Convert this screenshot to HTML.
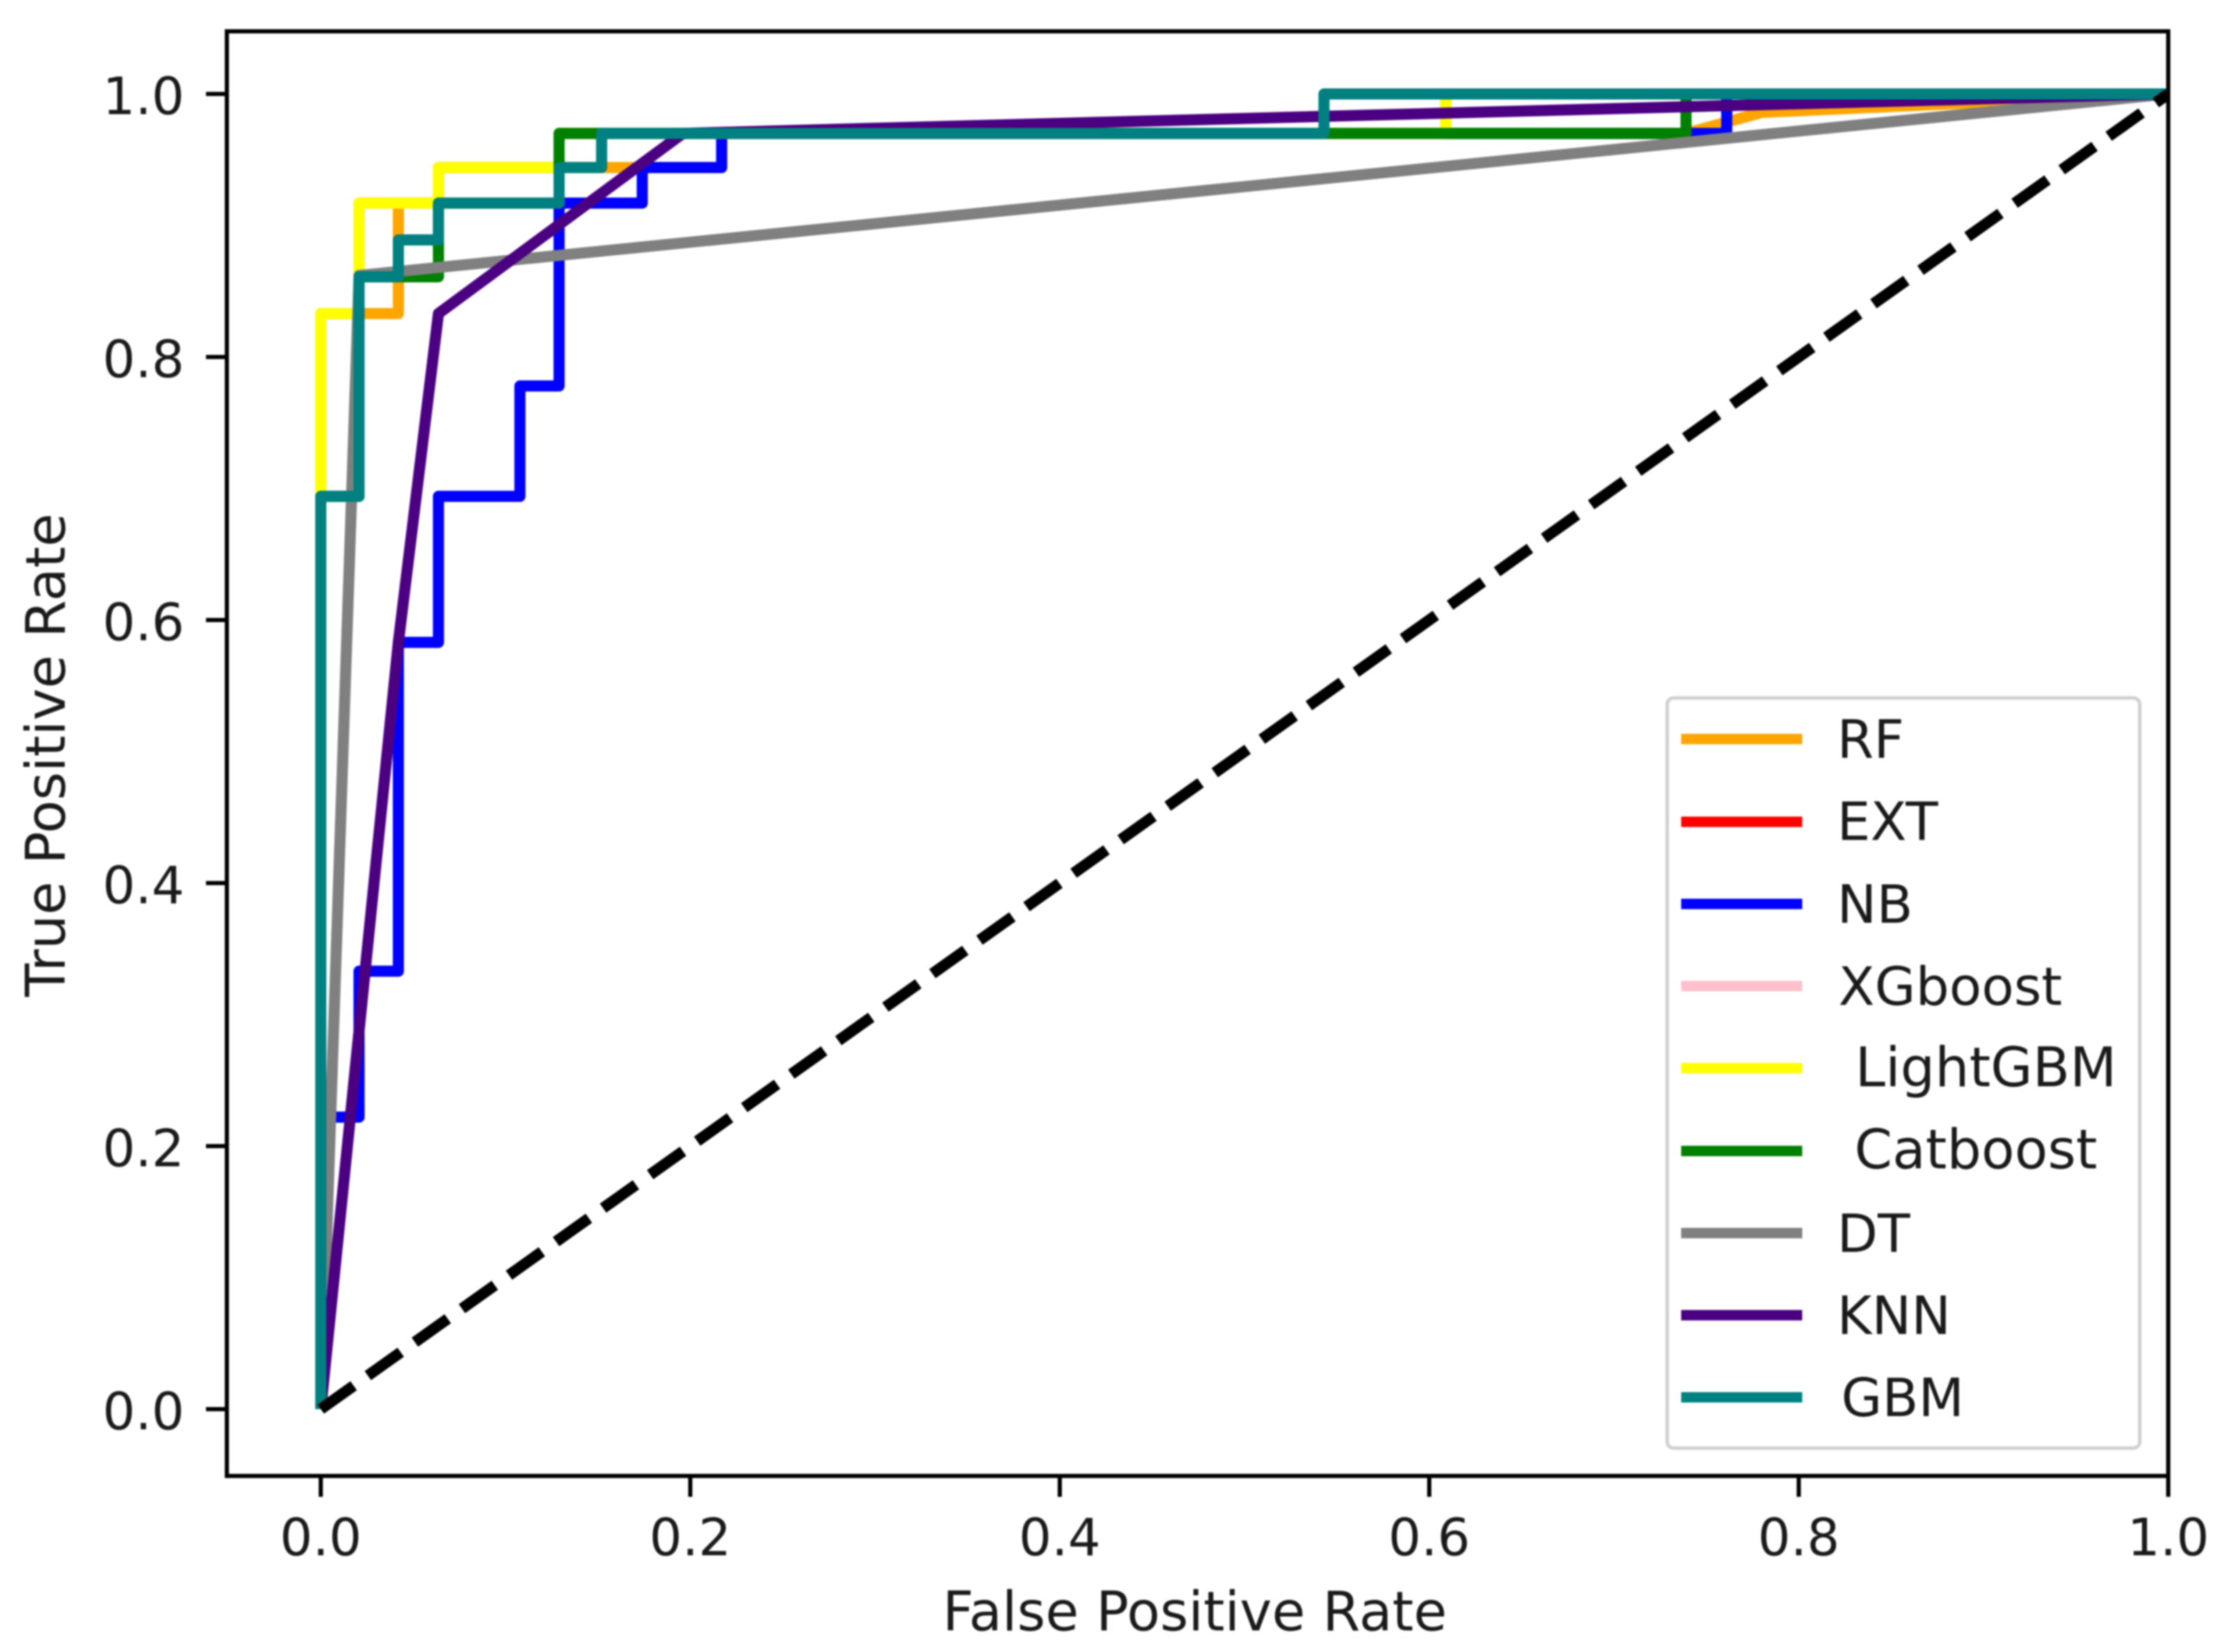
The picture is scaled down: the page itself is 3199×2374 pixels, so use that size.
<!DOCTYPE html>
<html lang="en">
<head>
<meta charset="utf-8">
<title>ROC curves</title>
<style>
  html,body{margin:0;padding:0;background:#fff;}
  svg{display:block;filter:blur(1.2px);}
  text{font-family:"DejaVu Sans","Liberation Sans",sans-serif;fill:#1a1a1a;}
</style>
</head>
<body>
<svg id="chart" xmlns="http://www.w3.org/2000/svg" width="3199" height="2374" viewBox="0 0 3199 2374">
  <rect x="0" y="0" width="3199" height="2374" fill="#ffffff"/>
  <defs><clipPath id="plot-clip"><rect x="327" y="45" width="2789" height="2076"/></clipPath></defs>
  <g id="series-layer" clip-path="url(#plot-clip)"></g>
  <g id="tick-layer"></g>
  <rect x="326" y="45" width="2790" height="2076" fill="none" stroke="#000" stroke-width="6"/>
  <text x="1717" y="2343" font-size="78" text-anchor="middle">False Positive Rate</text>
  <text transform="translate(93,1085) rotate(-90)" font-size="78" text-anchor="middle">True Positive Rate</text>
  <g>
    <rect x="2396" y="1003" width="679" height="1078" rx="9" fill="#ffffff" stroke="#d0d0d0" stroke-width="5"/>
    <g><line x1="2416" x2="2590" y1="1062" y2="1062" stroke="#ffa500" stroke-width="15"/><text x="2640" y="1089" font-size="76">RF</text></g>
    <g><line x1="2416" x2="2590" y1="1181" y2="1181" stroke="#ff0000" stroke-width="15"/><text x="2640" y="1207" font-size="76">EXT</text></g>
    <g><line x1="2416" x2="2590" y1="1299" y2="1299" stroke="#0000ff" stroke-width="15"/><text x="2640" y="1326" font-size="76">NB</text></g>
    <g><line x1="2416" x2="2590" y1="1417" y2="1417" stroke="#ffc0cb" stroke-width="15"/><text x="2642" y="1444" font-size="76">XGboost</text></g>
    <g><line x1="2416" x2="2590" y1="1535" y2="1535" stroke="#ffff00" stroke-width="15"/><text x="2666" y="1561" font-size="78">LightGBM</text></g>
    <g><line x1="2416" x2="2590" y1="1654" y2="1654" stroke="#008000" stroke-width="15"/><text x="2665" y="1679" font-size="78">Catboost</text></g>
    <g><line x1="2416" x2="2590" y1="1772" y2="1772" stroke="#808080" stroke-width="15"/><text x="2640" y="1799" font-size="76">DT</text></g>
    <g><line x1="2416" x2="2590" y1="1890" y2="1890" stroke="#4b0082" stroke-width="15"/><text x="2640" y="1917" font-size="76">KNN</text></g>
    <g><line x1="2416" x2="2590" y1="2008" y2="2008" stroke="#008080" stroke-width="15"/><text x="2646" y="2035" font-size="76">GBM</text></g>
  </g>
</svg>
<script>
const xTickValues = [0, 0.2, 0.4, 0.6, 0.8, 1.0];
const yTickValues = [0, 0.2, 0.4, 0.6, 0.8, 1.0];
const xTickLabels = ["0.0", "0.2", "0.4", "0.6", "0.8", "1.0"];
const yTickLabels = ["0.0", "0.2", "0.4", "0.6", "0.8", "1.0"];

const rfFpr = [0, 0, 0.042, 0.042, 0.0637, 0.0637, 0.217, 0.217, 0.739, 0.78, 1];
const rfTpr = [0, 0.833, 0.833, 0.917, 0.917, 0.944, 0.944, 0.970, 0.970, 0.986, 1];
const extFpr = [0, 0, 0.0207, 0.0207, 0.0637, 0.0637, 0.129, 0.129, 0.609, 0.609, 1];
const extTpr = [0, 0.833, 0.833, 0.917, 0.917, 0.944, 0.944, 0.970, 0.970, 1, 1];
const nbFpr = [0, 0, 0.0207, 0.0207, 0.042, 0.042, 0.0637, 0.0637, 0.1078, 0.1078, 0.129, 0.129, 0.174, 0.174, 0.217, 0.217, 0.761, 0.761, 1];
const nbTpr = [0, 0.222, 0.222, 0.333, 0.333, 0.583, 0.583, 0.694, 0.694, 0.778, 0.778, 0.917, 0.917, 0.944, 0.944, 0.970, 0.970, 1, 1];
const xgbFpr = [0, 0, 0.0207, 0.0207, 0.0637, 0.0637, 0.129, 0.129, 0.609, 0.609, 1];
const xgbTpr = [0, 0.833, 0.833, 0.917, 0.917, 0.944, 0.944, 0.970, 0.970, 1, 1];
const lightgbmFpr = [0, 0, 0.0207, 0.0207, 0.0637, 0.0637, 0.129, 0.129, 0.609, 0.609, 1];
const lightgbmTpr = [0, 0.833, 0.833, 0.917, 0.917, 0.944, 0.944, 0.970, 0.970, 1, 1];
const catboostFpr = [0, 0, 0.0207, 0.0207, 0.0637, 0.0637, 0.129, 0.129, 0.739, 0.739, 1];
const catboostTpr = [0, 0.694, 0.694, 0.861, 0.861, 0.917, 0.917, 0.970, 0.970, 1, 1];
const dtFpr = [0, 0.0207, 1];
const dtTpr = [0, 0.862, 1];
const knnFpr = [0, 0.042, 0.0637, 0.196, 1];
const knnTpr = [0, 0.583, 0.833, 0.970, 1];
const gbmFpr = [0, 0, 0.0207, 0.0207, 0.042, 0.042, 0.0637, 0.0637, 0.129, 0.129, 0.152, 0.152, 0.543, 0.543, 1];
const gbmTpr = [0, 0.694, 0.694, 0.861, 0.861, 0.889, 0.889, 0.917, 0.917, 0.944, 0.944, 0.970, 0.970, 1, 1];
const chanceFpr = [0, 1];
const chanceTpr = [0, 1];

const SVG_NS = 'http://www.w3.org/2000/svg';
function xScale(v) { return 461 + v * 2655; }
function yScale(v) { return 2025 - v * 1890; }

function drawCurve(name, xs, ys, color, dash) {
  const line = document.createElementNS(SVG_NS, 'polyline');
  
  
  line.setAttribute('points', xs.map(function (x, i) { return xScale(x).toFixed(1) + ',' + yScale(ys[i]).toFixed(1); }).join(' '));
  line.setAttribute('fill', 'none');
  line.setAttribute('stroke', color);
  line.setAttribute('stroke-width', '16');
  line.setAttribute('stroke-linejoin', 'round');
  if (dash) { line.setAttribute('stroke-dasharray', dash); }
  document.getElementById('series-layer').appendChild(line);
}

drawCurve('curve-rf', rfFpr, rfTpr, '#ffa500');
drawCurve('curve-ext', extFpr, extTpr, '#ff0000');
drawCurve('curve-nb', nbFpr, nbTpr, '#0000ff');
drawCurve('curve-xgboost', xgbFpr, xgbTpr, '#ffc0cb');
drawCurve('curve-lightgbm', lightgbmFpr, lightgbmTpr, '#ffff00');
drawCurve('curve-catboost', catboostFpr, catboostTpr, '#008000');
drawCurve('curve-dt', dtFpr, dtTpr, '#808080');
drawCurve('curve-knn', knnFpr, knnTpr, '#4b0082');
drawCurve('curve-gbm', gbmFpr, gbmTpr, '#008080');
drawCurve('chance-diagonal', chanceFpr, chanceTpr, '#000000', '58 25');

function drawTick(x1, y1, x2, y2) {
  const tick = document.createElementNS(SVG_NS, 'line');
  
  
  tick.setAttribute('x1', x1);
  tick.setAttribute('y1', y1);
  tick.setAttribute('x2', x2);
  tick.setAttribute('y2', y2);
  tick.setAttribute('stroke', '#000');
  tick.setAttribute('stroke-width', '6');
  document.getElementById('tick-layer').appendChild(tick);
}

function drawTickLabel(x, y, anchor, label) {
  const t = document.createElementNS(SVG_NS, 'text');
  
  
  t.setAttribute('x', x);
  t.setAttribute('y', y);
  t.setAttribute('font-size', '74');
  t.setAttribute('text-anchor', anchor);
  t.textContent = label;
  document.getElementById('tick-layer').appendChild(t);
}

xTickValues.forEach(function (v, i) {
  drawTick(xScale(v), 2121, xScale(v), 2151);
  drawTickLabel(xScale(v), 2235, 'middle', xTickLabels[i]);
});
yTickValues.forEach(function (v, i) {
  drawTick(296, yScale(v), 326, yScale(v));
  drawTickLabel(265, yScale(v) + 29, 'end', yTickLabels[i]);
});
</script>
</body>
</html>
